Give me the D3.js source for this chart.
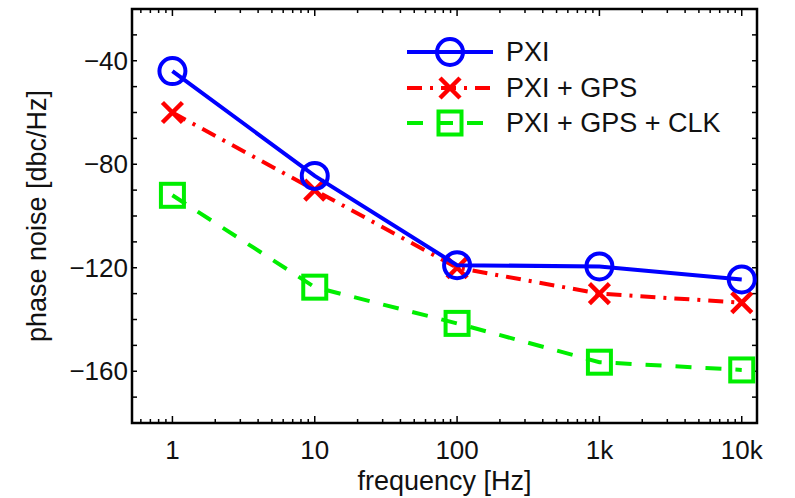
<!DOCTYPE html>
<html>
<head>
<meta charset="utf-8">
<script src="https://cdn.jsdelivr.net/npm/d3@7"></script>
<style>
  html, body { margin: 0; padding: 0; background: #fff; }
  svg { display: block; font-family: "Liberation Sans", Arial, Helvetica, sans-serif; }
</style>
</head>
<body>
<svg id="chart" width="795" height="498"></svg>
<script>
// Frequency offsets (Hz) and measured phase noise (dBc/Hz)
const freqs = [1, 10, 100, 1000, 10000];
const pxi = [-44, -84.5, -119, -119.5, -124.5];
const pxiGps = [-60, -90, -120, -130, -133.5];
const pxiGpsClk = [-92, -127.5, -141.5, -156.5, -159.5];

const seriesNames = ["PXI", "PXI + GPS", "PXI + GPS + CLK"];
const xTickValues = [1, 10, 100, 1000, 10000];
const xTickLabels = ["1", "10", "100", "1k", "10k"];
const yTickLabels = [-40, -80, -120, -160];
const xDomain = [0.52, 12800];
const yDomain = [-180, -20];

const svg = d3.select("#chart");
const plot = { left: 132, right: 757, top: 9, bottom: 423 };

const x = d3.scaleLog().domain(xDomain).range([plot.left, plot.right]);
const y = d3.scaleLinear().domain(yDomain).range([plot.bottom, plot.top]);

const series = [
  { name: seriesNames[0], values: pxi, color: "#0000ff", dash: null, marker: "circle" },
  { name: seriesNames[1], values: pxiGps, color: "#ff0000", dash: "15,8,3,8", marker: "x" },
  { name: seriesNames[2], values: pxiGpsClk, color: "#00ee00", dash: "16,14", marker: "square" }
];

// Minor log ticks inside the x range
const minorX = [];
for (let e = -1; e <= 4; e++) {
  for (let m = 2; m <= 9; m++) {
    const v = m * Math.pow(10, e);
    if (v > xDomain[0] && v < xDomain[1]) minorX.push(v);
  }
}
const yMinor = d3.range(-170, -20, 10);

const axisG = svg.append("g").attr("stroke", "#000").attr("fill", "none");

// Ticks pointing inward on all four sides
function tickLines(vals, len, horizontal) {
  vals.forEach(v => {
    if (horizontal) {
      const px = x(v);
      axisG.append("line").attr("x1", px).attr("x2", px)
        .attr("y1", plot.bottom).attr("y2", plot.bottom - len).attr("stroke-width", 1.5);
      axisG.append("line").attr("x1", px).attr("x2", px)
        .attr("y1", plot.top).attr("y2", plot.top + len).attr("stroke-width", 1.5);
    } else {
      const py = y(v);
      axisG.append("line").attr("y1", py).attr("y2", py)
        .attr("x1", plot.left).attr("x2", plot.left + len).attr("stroke-width", 1.5);
      axisG.append("line").attr("y1", py).attr("y2", py)
        .attr("x1", plot.right).attr("x2", plot.right - len).attr("stroke-width", 1.5);
    }
  });
}
tickLines(minorX, 4, true);
tickLines(xTickValues, 7, true);
tickLines(yMinor, 5, false);

// Axis box
axisG.append("rect")
  .attr("x", plot.left).attr("y", plot.top)
  .attr("width", plot.right - plot.left).attr("height", plot.bottom - plot.top)
  .attr("stroke-width", 2.5);

// Tick labels
svg.append("g").selectAll("text").data(xTickValues).join("text")
  .attr("x", d => x(d)).attr("y", 459)
  .attr("text-anchor", "middle").attr("font-size", 26).attr("fill", "#111")
  .text((d, i) => xTickLabels[i]);

svg.append("g").selectAll("text").data(yTickLabels).join("text")
  .attr("x", 128).attr("y", d => y(d)).attr("dy", "0.35em")
  .attr("text-anchor", "end").attr("font-size", 26).attr("fill", "#111")
  .text(d => "\u2212" + Math.abs(d));

// Axis titles
svg.append("text").attr("x", (plot.left + plot.right) / 2).attr("y", 490)
  .attr("text-anchor", "middle").attr("font-size", 27).attr("fill", "#111")
  .text("frequency [Hz]");
svg.append("text").attr("transform", `translate(46,${(plot.top + plot.bottom) / 2}) rotate(-90)`)
  .attr("text-anchor", "middle").attr("font-size", 27).attr("fill", "#111")
  .text("phase noise [dbc/Hz]");

// Markers
function drawMarker(g, type, cx, cy, color) {
  if (type === "circle") {
    g.append("circle").attr("cx", cx).attr("cy", cy).attr("r", 13)
      .attr("fill", "none").attr("stroke", color).attr("stroke-width", 4);
  } else if (type === "x") {
    const s = 10;
    g.append("path").attr("d", `M${cx - s},${cy - s}L${cx + s},${cy + s}M${cx - s},${cy + s}L${cx + s},${cy - s}`)
      .attr("stroke", color).attr("stroke-width", 4.5).attr("fill", "none");
  } else {
    const s = 11.5;
    g.append("rect").attr("x", cx - s).attr("y", cy - s).attr("width", 2 * s).attr("height", 2 * s)
      .attr("fill", "none").attr("stroke", color).attr("stroke-width", 4);
  }
}

const line = d3.line().x(d => x(d[0])).y(d => y(d[1]));
const dataG = svg.append("g");
series.slice().reverse().forEach(s => {
  const pts = freqs.map((f, i) => [f, s.values[i]]);
  dataG.append("path").datum(pts).attr("d", line)
    .attr("fill", "none").attr("stroke", s.color).attr("stroke-width", 4)
    .attr("stroke-dasharray", s.dash);
  pts.forEach(p => drawMarker(dataG, s.marker, x(p[0]), y(p[1]), s.color));
});

// Legend
const legend = svg.append("g");
const legendRows = [52, 88, 123];
series.forEach((s, i) => {
  const ly = legendRows[i];
  legend.append("line").attr("x1", 407).attr("x2", 493).attr("y1", ly).attr("y2", ly)
    .attr("stroke", s.color).attr("stroke-width", 4)
    .attr("stroke-dasharray", s.dash);
  drawMarker(legend, s.marker, 450, ly, s.color);
  legend.append("text").attr("x", 506).attr("y", ly).attr("dy", "0.35em")
    .attr("font-size", 27).attr("fill", "#111").text(s.name);
});
</script>
</body>
</html>
